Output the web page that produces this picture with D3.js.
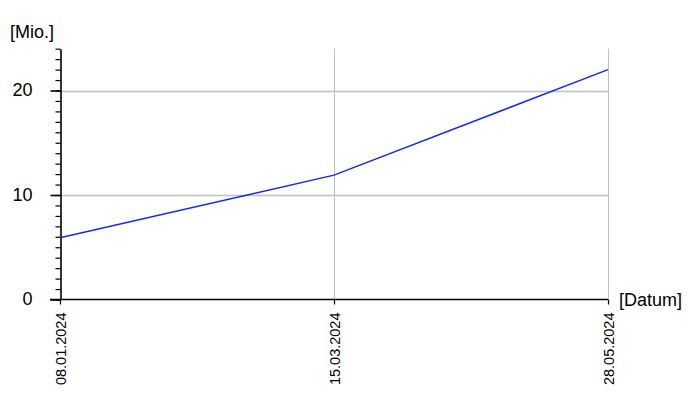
<!DOCTYPE html>
<html><head><meta charset="utf-8">
<script src="https://cdn.jsdelivr.net/npm/d3@7"></script>
<style>body{margin:0;background:#fff}svg{display:block}text{font-family:"Liberation Sans",Arial,sans-serif}</style>
</head><body>
<svg id="c" width="700" height="400"></svg>
<script>
const dates = ["08.01.2024", "15.03.2024", "28.05.2024"];
const values = [5.9, 11.9, 22.0];
const majorTicks = [0, 10, 20];
const minorTicks = d3.range(0, 25, 1);
const yLabel = "[Mio.]";
const xLabel = "[Datum]";

const svg = d3.select("#c");
const x = d3.scalePoint().domain(dates).range([60, 608]).padding(0);
const y = d3.scaleLinear().domain([0, 24]).range([299.5, 48.7]);

// horizontal gridlines
svg.append("g").selectAll("line").data(majorTicks.filter(d => d > 0)).join("line")
  .attr("x1", 60).attr("x2", 608)
  .attr("y1", d => Math.round(y(d)) + 0.5).attr("y2", d => Math.round(y(d)) + 0.5)
  .attr("stroke", "#c0c0c0").attr("stroke-width", 1.5);
// vertical gridlines
svg.append("g").selectAll("line").data(dates.slice(1)).join("line")
  .attr("x1", d => x(d) + 0.5).attr("x2", d => x(d) + 0.5)
  .attr("y1", y(24)).attr("y2", y(0))
  .attr("stroke", "#c0c0c0").attr("stroke-width", 1);

// y axis minor ticks
const yAxisMinor = d3.axisLeft(y).tickValues(minorTicks).tickSize(5).tickFormat("");
const gm = svg.append("g").attr("transform", "translate(60.5,0)").call(yAxisMinor);
gm.select(".domain").remove();
gm.selectAll("line").attr("stroke", "#000").attr("stroke-width", 1.2);

// y axis major
const yAxis = d3.axisLeft(y).tickValues(majorTicks).tickSize(10).tickPadding(18).tickSizeOuter(0);
const gy = svg.append("g").attr("transform", "translate(60.5,0)").call(yAxis);
gy.select(".domain").attr("stroke", "#000").attr("stroke-width", 1.6);
gy.selectAll("line").attr("stroke", "#000").attr("stroke-width", 1.6);
gy.selectAll("text").attr("font-size", 18).attr("fill", "#000").attr("dy", "0.28em")
  .attr("font-family", "Liberation Sans, Arial, sans-serif");

// x axis
const xAxis = d3.axisBottom(x).tickSize(5).tickSizeOuter(0);
const gx = svg.append("g").attr("transform", "translate(0," + 299.5 + ")").call(xAxis);
gx.select(".domain").attr("stroke", "#000").attr("stroke-width", 1.6).attr("d", "M50,0H608");
gx.selectAll("line").attr("stroke", "#000").attr("stroke-width", 1.2);
gx.selectAll("text").attr("font-size", 14.5).attr("fill", "#000")
  .attr("font-family", "Liberation Sans, Arial, sans-serif")
  .attr("transform", "rotate(-90)")
  .attr("text-anchor", "end").attr("x", -13).attr("y", 0).attr("dy", "0.35em");

// line
const line = d3.line().x((d, i) => x(dates[i])).y(d => y(d));
svg.append("path").datum(values).attr("d", line)
  .attr("fill", "none").attr("stroke", "#1428f5").attr("stroke-width", 1.5);

// axis labels
svg.append("text").attr("x", 10).attr("y", 38).attr("font-size", 18).attr("fill", "#000").text(yLabel);
svg.append("text").attr("x", 619).attr("y", 306).attr("font-size", 18).attr("fill", "#000").text(xLabel);
</script>
</body></html>
